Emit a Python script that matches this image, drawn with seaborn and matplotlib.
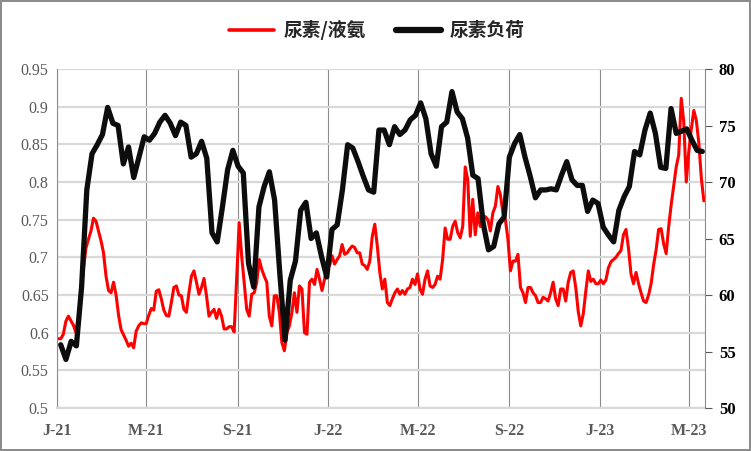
import matplotlib

matplotlib.use("Agg")
import matplotlib.pyplot as plt
import pandas as pd
import seaborn as sns
from matplotlib.font_manager import FontProperties
from matplotlib.lines import Line2D

# Urea / liquid ammonia price ratio (left axis).
RATIO_START = "2021-01-02 18:00"
RATIO_END = "2023-05-21"
urea_ammonia_ratio = [
    0.592, 0.592, 0.598, 0.615, 0.622, 0.616, 0.610, 0.600, 0.620, 0.650,
    0.685, 0.712, 0.724, 0.735, 0.752, 0.748, 0.735, 0.722, 0.706, 0.675,
    0.656, 0.653, 0.667, 0.650, 0.623, 0.604, 0.597, 0.590, 0.582, 0.586,
    0.580, 0.602, 0.609, 0.613, 0.612, 0.612, 0.623, 0.632, 0.630, 0.655,
    0.657, 0.645, 0.630, 0.623, 0.622, 0.640, 0.660, 0.662, 0.650,
    0.649, 0.631, 0.627, 0.653, 0.675, 0.682, 0.667, 0.651, 0.660, 0.672,
    0.649, 0.622, 0.627, 0.631, 0.619, 0.631, 0.622, 0.605, 0.605, 0.608,
    0.608, 0.601, 0.671, 0.746, 0.702, 0.667, 0.631, 0.622, 0.651, 0.653,
    0.667, 0.697, 0.684, 0.675, 0.667, 0.622, 0.609, 0.649, 0.649, 0.627,
    0.587, 0.576, 0.600, 0.609, 0.627, 0.653, 0.627, 0.662, 0.658, 0.600,
    0.598, 0.667,
    0.671, 0.664, 0.684, 0.671, 0.656, 0.671, 0.689, 0.689, 0.702, 0.691,
    0.697, 0.702, 0.717, 0.704, 0.706, 0.711, 0.715, 0.713, 0.706, 0.706,
    0.691, 0.689, 0.684, 0.695, 0.728, 0.744, 0.715, 0.680, 0.658, 0.671,
    0.640, 0.636, 0.645, 0.653, 0.658, 0.651, 0.656, 0.651, 0.658, 0.660,
    0.671, 0.664, 0.678, 0.658, 0.651, 0.671, 0.682, 0.662, 0.660, 0.664,
    0.675,
    0.671, 0.697, 0.739, 0.724, 0.724, 0.741, 0.748, 0.733, 0.726, 0.741,
    0.820, 0.803, 0.728, 0.777, 0.730, 0.759, 0.741, 0.750, 0.754, 0.750,
    0.735, 0.759, 0.768, 0.794, 0.783, 0.759, 0.750, 0.724, 0.682, 0.695,
    0.695, 0.704, 0.660, 0.653, 0.640, 0.660, 0.660, 0.653, 0.649, 0.640,
    0.640, 0.647, 0.645, 0.642, 0.653, 0.667, 0.645, 0.636, 0.658, 0.658,
    0.642, 0.667, 0.680,
    0.682, 0.660, 0.628, 0.609, 0.625, 0.655, 0.682, 0.668, 0.671, 0.665,
    0.665, 0.670, 0.665, 0.670, 0.686, 0.694, 0.697, 0.700, 0.705, 0.709,
    0.730, 0.737, 0.712, 0.678, 0.665, 0.680, 0.665, 0.653, 0.642, 0.640,
    0.650, 0.665, 0.690, 0.710, 0.737, 0.738, 0.718, 0.705, 0.741, 0.770,
    0.795, 0.820, 0.836, 0.911, 0.880, 0.800, 0.840, 0.870, 0.895, 0.882,
    0.852, 0.805, 0.775,
]

# Urea plant operating load, weekly (right axis).
LOAD_START = "2021-01-06"
LOAD_END = "2023-05-19"
urea_load = [
    55.6, 54.3, 55.9, 55.5, 60.7, 69.3, 72.5, 73.3, 74.2, 76.6,
    75.2, 75.0, 71.6, 73.1, 70.4, 72.2, 74.0, 73.7, 74.3, 75.3,
    75.9, 75.2, 74.1, 75.3, 75.0, 72.2, 72.5, 73.6, 72.1, 65.5,
    64.7, 67.8, 71.1, 72.8, 71.4, 70.8, 62.8, 60.7, 67.8, 69.6,
    70.9, 68.4, 61.9, 56.0, 61.3, 63.0, 67.5, 68.2, 65.0, 65.5,
    63.4, 61.6, 65.8, 66.2, 69.3, 73.3, 73.0, 71.8, 70.5, 69.3,
    69.1, 74.6, 74.6, 73.3, 74.9, 74.2, 74.6, 75.5, 75.9, 77.0,
    75.6, 72.5, 71.4, 74.9, 75.3, 78.0, 76.2, 75.6, 73.9, 70.6,
    70.3, 66.3, 64.0, 64.3, 66.3, 66.9, 72.2, 73.4, 74.2, 72.2,
    70.5, 68.6, 69.3, 69.3, 69.4, 69.3, 70.6, 71.8, 70.2, 69.7,
    69.7, 67.4, 68.4, 68.1, 66.0, 65.3, 64.7, 67.5, 68.7, 69.6,
    72.7, 72.4, 74.6, 76.1, 74.3, 71.3, 71.2, 76.5, 74.3, 74.5,
    74.7, 73.7, 72.8, 72.7,
]

series_labels = ["尿素/液氨", "尿素负荷"]
x_tick_dates = ["2021-01-01", "2021-05-01", "2021-09-01", "2022-01-01",
                "2022-05-01", "2022-09-01", "2023-01-01", "2023-05-01"]
x_tick_labels = ["J-21", "M-21", "S-21", "J-22", "M-22", "S-22", "J-23", "M-23"]
left_ticks = [0.5, 0.55, 0.6, 0.65, 0.7, 0.75, 0.8, 0.85, 0.9, 0.95]
right_ticks = [50, 55, 60, 65, 70, 75, 80]


def main() -> None:
    ratio_df = pd.DataFrame({
        "date": pd.date_range(RATIO_START, RATIO_END, periods=len(urea_ammonia_ratio)),
        "value": urea_ammonia_ratio,
    })
    load_df = pd.DataFrame({
        "date": pd.date_range(LOAD_START, LOAD_END, periods=len(urea_load)),
        "value": urea_load,
    })

    sns.set_theme(style="white")
    plt.rcParams["font.family"] = ["Liberation Serif", "Noto Sans CJK SC"]

    fig = plt.figure(figsize=(7.51, 4.51), dpi=100)
    fig.patch.set_edgecolor("#8c8c8c")
    fig.patch.set_linewidth(1.5)
    ax = fig.add_axes([0.0759, 0.0953, 0.8628, 0.7517])
    ax2 = ax.twinx()

    sns.lineplot(data=ratio_df, x="date", y="value", ax=ax, color="#ff0000",
                 linewidth=2.2, legend=False)
    sns.lineplot(data=load_df, x="date", y="value", ax=ax2, color="#0d0d0d",
                 linewidth=3.8, legend=False)

    ax.set_xlim(pd.Timestamp("2021-01-01"), pd.Timestamp("2023-05-22 12:00"))
    ax.set_xticks(pd.to_datetime(x_tick_dates))
    ax.set_xticklabels(x_tick_labels)
    ax.set_ylim(0.5, 0.95)
    ax.set_yticks(left_ticks)
    ax.set_yticklabels([f"{v:g}" for v in left_ticks])
    ax2.set_ylim(50, 80)
    ax2.set_yticks(right_ticks)
    ax2.set_yticklabels([str(v) for v in right_ticks])
    for a in (ax, ax2):
        a.set_xlabel("")
        a.set_ylabel("")

    # Light horizontal gridlines, darker vertical ones at the month ticks.
    ax.set_axisbelow(True)
    ax.yaxis.grid(True, color="#d9d9d9", linewidth=1.6)
    ax.xaxis.grid(True, color="#8c8c8c", linewidth=0.8)

    for side in ("top", "right"):
        ax.spines[side].set_visible(False)
    ax.spines["left"].set_color("#8c8c8c")
    ax.spines["left"].set_linewidth(0.8)
    ax.spines["bottom"].set_color("#d9d9d9")
    ax.spines["bottom"].set_linewidth(1.6)
    for side in ("top", "left", "bottom"):
        ax2.spines[side].set_visible(False)
    ax2.spines["right"].set_color("#8c8c8c")
    ax2.spines["right"].set_linewidth(0.8)

    ax.tick_params(axis="x", direction="out", length=4, width=1.2,
                   color="#d9d9d9", labelcolor="#595959", labelsize=11.5, pad=7)
    for lab in ax.get_xticklabels():
        lab.set_fontweight("bold")
    ax.tick_params(axis="y", length=0, labelcolor="#595959", labelsize=11.5, pad=6)
    ax2.tick_params(axis="y", direction="out", length=5, width=0.8,
                    color="#595959", labelcolor="black", labelsize=12, pad=5)
    for lab in ax2.get_yticklabels():
        lab.set_fontweight("bold")

    handles = [
        Line2D([], [], color="#ff0000", linewidth=2.6),
        Line2D([], [], color="#0d0d0d", linewidth=4.5, solid_capstyle="round"),
    ]
    fig.legend(handles, series_labels, loc="center", bbox_to_anchor=(0.502, 0.933),
               ncol=2, frameon=False, handlelength=2.4, handletextpad=0.5,
               columnspacing=1.6,
               prop=FontProperties(family="Noto Sans CJK SC", size=13.5, weight="bold"))

    fig.savefig("out.png", dpi=100, edgecolor=fig.get_edgecolor())
    plt.close(fig)


if __name__ == "__main__":
    main()
